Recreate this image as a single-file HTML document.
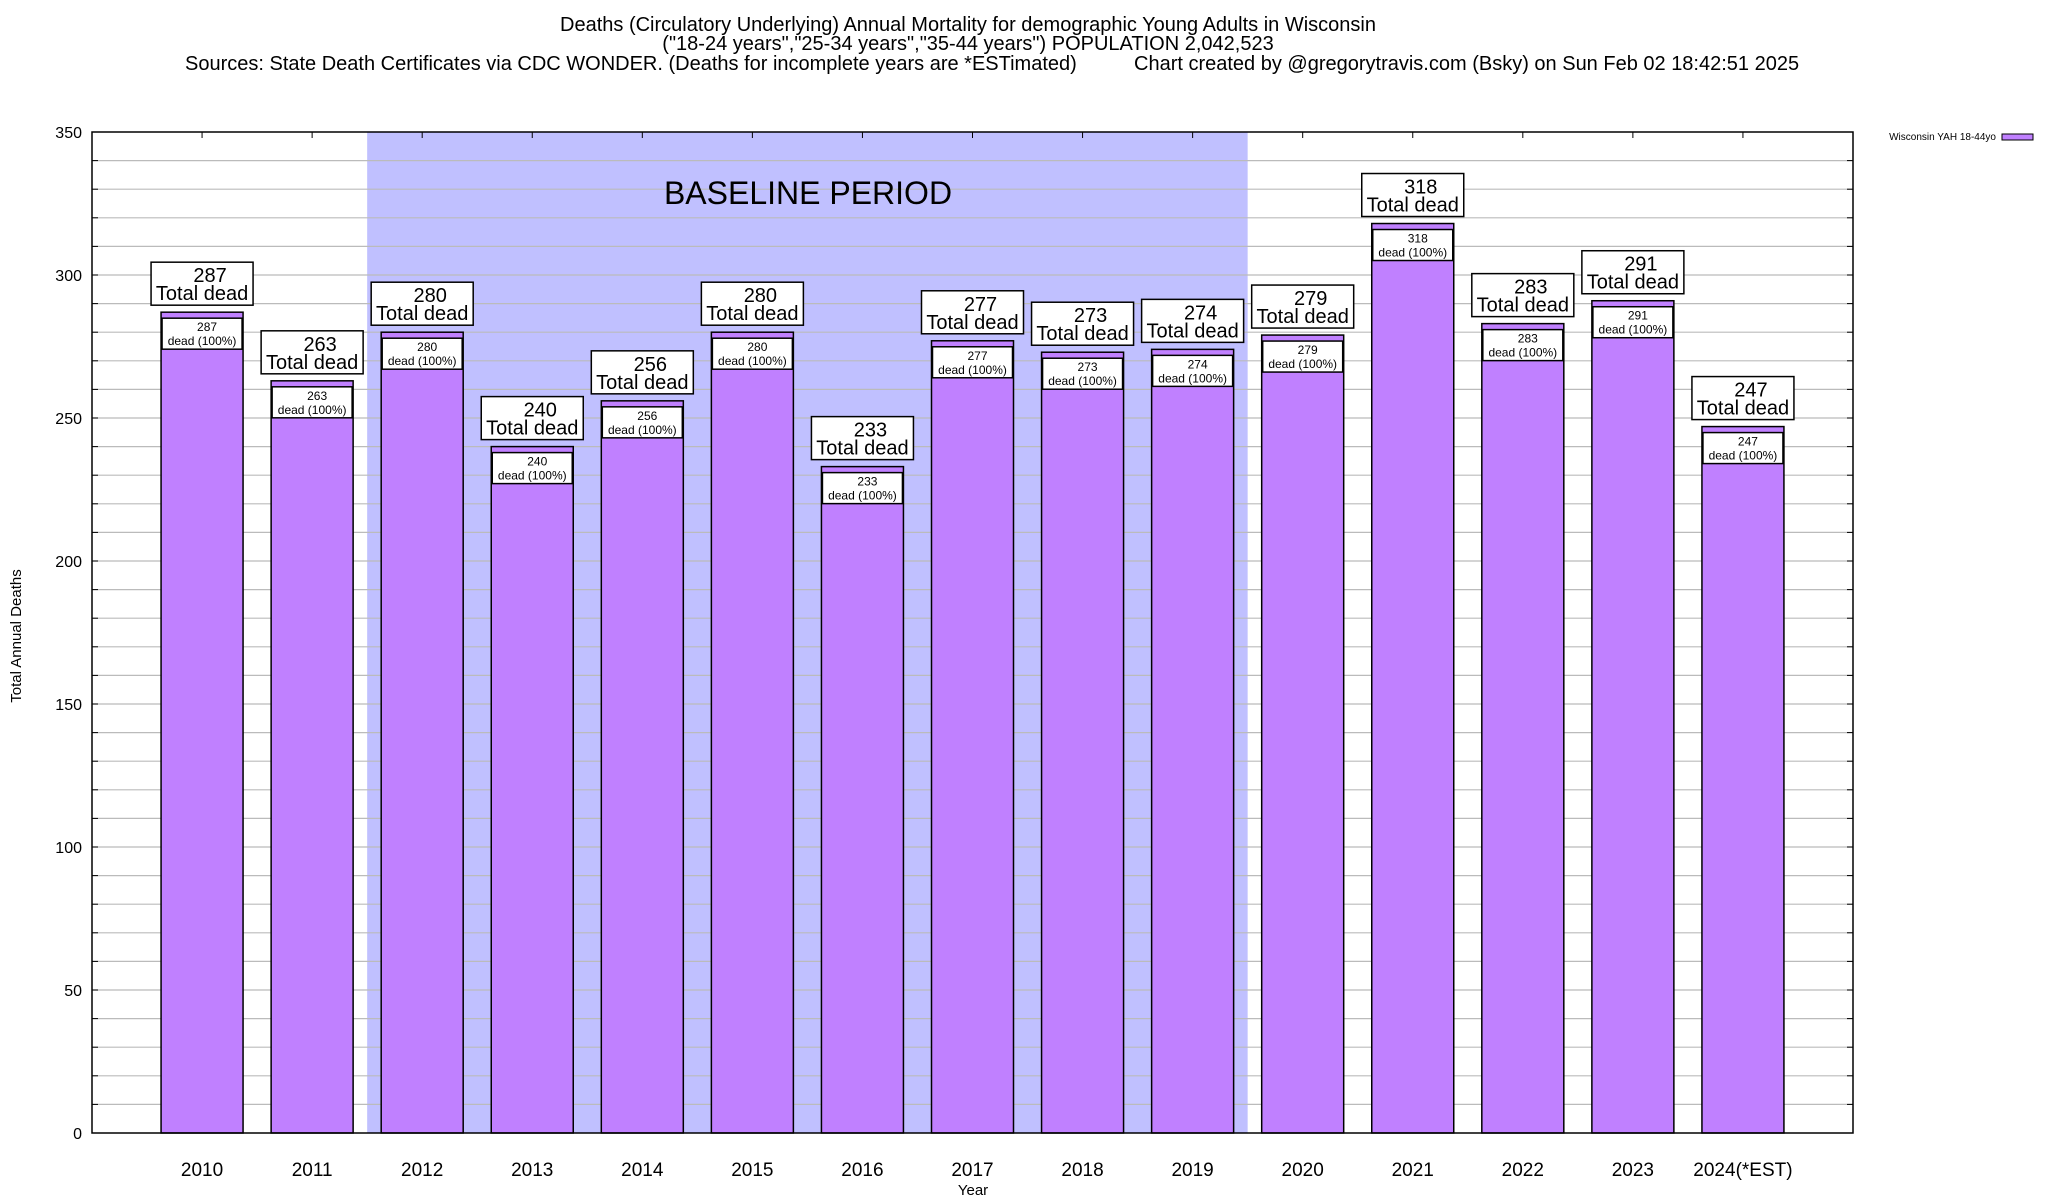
<!DOCTYPE html>
<html><head><meta charset="utf-8"><style>
body{margin:0;background:#fff;}
svg{display:block;font-family:"Liberation Sans",Arial,sans-serif;}
</style></head><body>
<svg id="chart" width="2048" height="1200" viewBox="0 0 2048 1200" xmlns="http://www.w3.org/2000/svg">
<g font-size="20">
<text x="968" y="31" text-anchor="middle">Deaths (Circulatory Underlying) Annual Mortality for demographic Young Adults in Wisconsin</text>
<text x="968" y="50" text-anchor="middle">("18-24 years","25-34 years","35-44 years") POPULATION 2,042,523</text>
<text x="185" y="70">Sources: State Death Certificates via CDC WONDER. (Deaths for incomplete years are *ESTimated)</text>
<text x="1134" y="70">Chart created by @gregorytravis.com (Bsky) on Sun Feb 02 18:42:51 2025</text>
</g>
<g id="grid"></g>
<g id="bars"></g>
<rect x="92" y="132" width="1761" height="1001" fill="none" stroke="#000" stroke-width="1.5"/>
<text transform="translate(21,636) rotate(-90)" font-size="15" text-anchor="middle">Total Annual Deaths</text>
<text x="973" y="1195" font-size="15" text-anchor="middle">Year</text>
<g>
<text x="1996" y="140" font-size="10" text-anchor="end">Wisconsin YAH 18-44yo</text>
<rect x="2002" y="134" width="31" height="6" fill="#c080ff" stroke="#000" stroke-width="1"/>
</g>
</svg>
<script>
const categories=["2010","2011","2012","2013","2014","2015","2016","2017","2018","2019","2020","2021","2022","2023","2024(*EST)"];
const deaths=[287,263,280,240,256,280,233,277,273,274,279,318,283,291,247];
const yTicks=[0,50,100,150,200,250,300,350];
const baselineStart=2, baselineEnd=9;
const NS="http://www.w3.org/2000/svg";
const X0=92,X1=1853,Y0=1133,Y1=132;
const x=i=>X0+(i+1)*(X1-X0)/16;
const y=v=>Y0-v*(Y0-Y1)/350;
function mk(tag,attrs,parent,text){const e=document.createElementNS(NS,tag);for(const k in attrs)e.setAttribute(k,attrs[k]);if(text!==undefined)e.textContent=text;parent.appendChild(e);return e;}
const grid=document.getElementById('grid'),bars=document.getElementById('bars');
const bw=(X1-X0)/16;
const sh=mk('rect',{x:x(baselineStart)-bw/2,y:Y1,width:(baselineEnd-baselineStart+1)*bw,height:Y0-Y1,fill:'#c0c0ff'},grid);


for(let v=10;v<350;v+=10){
  const l=mk('line',{x1:X0,x2:X1,y1:y(v),y2:y(v),stroke:'#bbb','stroke-width':1.2},grid);
  
  
  mk('line',{x1:X0,x2:X0+6,y1:y(v),y2:y(v),stroke:'#000'},grid);
  mk('line',{x1:X1-6,x2:X1,y1:y(v),y2:y(v),stroke:'#000'},grid);
}
yTicks.forEach(t=>{
  const tx=mk('text',{x:82,y:y(t)+6,'font-size':16,'text-anchor':'end'},grid,String(t));
  
  
});
const bt=mk('text',{x:808,y:204,'font-size':32,'text-anchor':'middle'},grid,'BASELINE PERIOD');


categories.forEach((c,i)=>{
  const cx=x(i),v=deaths[i],top=y(v);
  mk('line',{x1:cx,x2:cx,y1:Y1,y2:Y1+6,stroke:'#000'},bars);
  mk('line',{x1:cx,x2:cx,y1:Y0,y2:Y0-6,stroke:'#000'},bars);
  const r=mk('rect',{x:cx-41,y:top,width:82,height:Y0-top,fill:'#c080ff',stroke:'#000','stroke-width':1.5},bars);
  
  
  const ib=mk('rect',{x:cx-40,y:top+6,width:80,height:31,fill:'#fff',stroke:'#000','stroke-width':1.5},bars);
  
  
  mk('text',{x:cx+5,y:top+19,'font-size':12,'text-anchor':'middle'},bars,String(v));
  mk('text',{x:cx,y:top+33,'font-size':12,'text-anchor':'middle'},bars,'dead (100%)');
  const ob=mk('rect',{x:cx-51,y:top-50,width:102,height:43,fill:'#fff',stroke:'#000','stroke-width':1.5},bars);
  
  
  mk('text',{x:cx+8,y:top-30,'font-size':20,'text-anchor':'middle'},bars,String(v));
  mk('text',{x:cx,y:top-12,'font-size':20,'text-anchor':'middle'},bars,'Total dead');
  const xl=mk('text',{x:cx,y:1176,'font-size':19,'text-anchor':'middle'},bars,c);
  
  
});
</script>
</body></html>
